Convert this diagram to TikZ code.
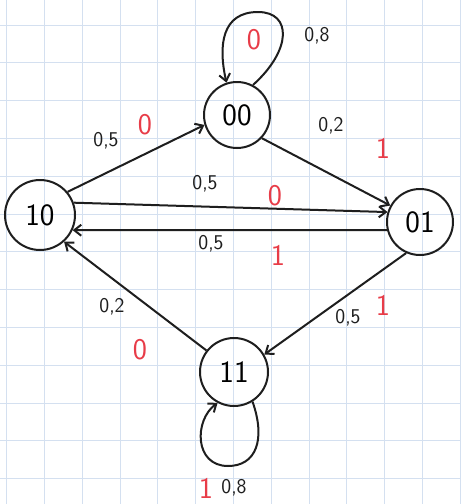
\documentclass[tikz,border=0pt]{standalone}
\usetikzlibrary{arrows.meta}
\definecolor{gridblue}{RGB}{212,224,240}
\definecolor{penred}{RGB}{232,60,72}
\definecolor{ink}{RGB}{30,30,30}
\tikzset{
  state/.style={circle, draw=ink, line width=2pt, minimum size=66pt, inner sep=0pt, font=\sffamily\fontsize{31}{31}\selectfont},
  edge/.style={draw=ink, line width=2pt, -{Straight Barb[length=7pt,width=11pt]}},
  prob/.style={font=\sffamily\fontsize{21}{21}\selectfont, text=ink},
  sym/.style={font=\sffamily\fontsize{30}{30}\selectfont, text=penred}
}
\begin{document}
\begin{tikzpicture}[x=1pt,y=-1pt]
\useasboundingbox (0,0) rectangle (461,504);
\fill[white] (0,0) rectangle (461,504);
% grid paper
\foreach \i in {0,...,12} {
  \draw[gridblue, line width=0.7pt] ({6.5+37.8*\i},0) -- ({6.5+37.8*\i},504);
}
\foreach \j in {0,...,13} {
  \draw[gridblue, line width=0.7pt] (0,{25+37.8*\j}) -- (461,{25+37.8*\j});
}
% states
\node[state] (n00) at (237,115) {00};
\node[state, minimum size=70pt] (n10) at (40,215) {10};
\node[state] (n01) at (420,222) {01};
\node[state, minimum size=68pt] (n11) at (234,372) {11};
% transitions
\draw[edge] (n10.40) -- (n00.197);
\draw[edge] (n00.-43) -- (n01.151);
\draw[edge] (n10.20) -- (n01.163);
\draw[edge] (n01.194) -- (n10.-25);
\draw[edge] (n01.246) -- (n11.30);
\draw[edge] (n11.142) -- (n10.-48);
% self loops
\draw[edge] (n00.62) .. controls (292,50) and (292,12) .. (258,12)
  .. controls (222,12) and (218,45) .. (n00.108);
\draw[edge] (n11.-58) .. controls (266,440) and (256,466) .. (228,466)
  .. controls (194,466) and (194,420) .. (n11.-118);
% probabilities
\node[prob] (p1) at (106,141) {0,5};
\node[prob] (p2) at (331,126) {0,2};
\node[prob] (p3) at (205,184) {0,5};
\node[prob] (p4) at (211,244) {0,5};
\node[prob] (p5) at (348,318) {0,5};
\node[prob] (p6) at (112,307) {0,2};
\node[prob] (p7) at (317,36) {0,8};
\node[prob] (p8) at (234,488) {0,8};
% output symbols
\node[sym] (s1) at (145,125) {0};
\node[sym] (s2) at (383,148) {1};
\node[sym] (s3) at (275,196) {0};
\node[sym] (s4) at (278,255) {1};
\node[sym] (s5) at (383,305) {1};
\node[sym] (s6) at (140,350) {0};
\node[sym] (s7) at (254,40) {0};
\node[sym] (s8) at (206,488) {1};
\end{tikzpicture}
\end{document}
